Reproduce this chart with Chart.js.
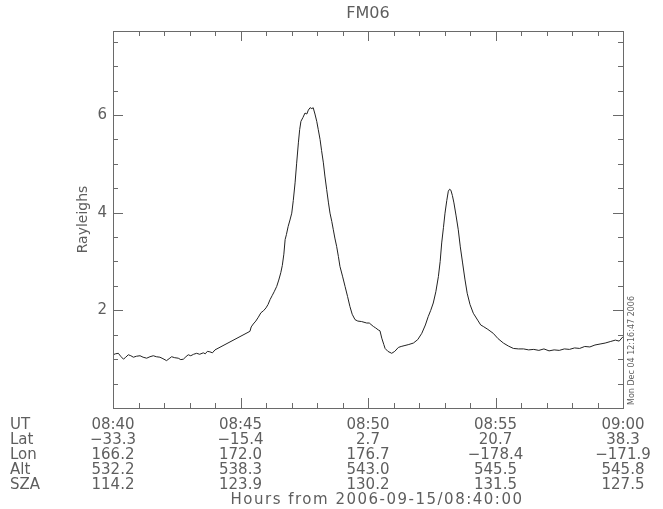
<!DOCTYPE html>
<html>
<head>
<meta charset="utf-8">
<script src="https://cdn.jsdelivr.net/npm/chart.js@4/dist/chart.umd.min.js"></script>
<style>
html,body{margin:0;padding:0;background:#fff;}
#c{display:block;}
</style>
</head>
<body>
<canvas id="c" width="663" height="509"></canvas>
<script>
// ---- data (minutes after 2006-09-15 08:40:00, Rayleighs) ----
const minutes = [
 0.00,0.10,0.21,0.30,0.41,0.50,0.60,0.70,0.80,0.92,1.06,1.18,1.32,1.45,1.58,1.70,1.84,1.96,2.10,2.20,
 2.30,2.42,2.56,2.66,2.76,2.86,2.95,3.05,3.16,3.28,3.40,3.54,3.62,3.70,3.80,3.90,4.00,5.37,5.42,5.50,
 5.60,5.70,5.80,5.90,6.00,6.08,6.16,6.24,6.32,6.42,6.50,6.58,6.64,6.70,6.75,6.80,6.87,6.94,7.01,7.07,
 7.14,7.20,7.27,7.32,7.37,7.45,7.53,7.60,7.66,7.73,7.80,7.85,7.92,7.99,8.05,8.12,8.18,8.25,8.31,8.38,
 8.45,8.51,8.58,8.64,8.70,8.77,8.84,8.90,9.00,9.10,9.20,9.29,9.38,9.49,9.60,9.75,9.95,10.05,10.21,10.30,
 10.40,10.47,10.54,10.62,10.67,10.78,10.93,11.05,11.19,11.30,11.45,11.60,11.78,11.95,12.11,12.25,12.36,12.46,12.56,12.66,
 12.76,12.83,12.89,12.96,13.02,13.09,13.15,13.20,13.25,13.31,13.37,13.45,13.54,13.62,13.71,13.80,13.89,14.00,14.13,14.30,
 14.42,14.52,14.70,14.91,15.10,15.31,15.50,15.70,15.90,16.10,16.30,16.50,16.70,16.90,17.10,17.30,17.50,17.70,17.90,18.10,
 18.30,18.50,18.70,18.90,19.10,19.30,19.50,19.70,19.85,20.00
];
const rayleighs = [
 1.09,1.11,1.12,1.06,1.00,1.04,1.09,1.07,1.04,1.06,1.07,1.04,1.02,1.05,1.07,1.05,1.04,1.01,0.97,1.01,
 1.05,1.03,1.02,0.99,1.00,1.05,1.09,1.07,1.10,1.12,1.10,1.13,1.11,1.16,1.15,1.13,1.19,1.57,1.66,1.72,
 1.78,1.86,1.95,1.99,2.05,2.12,2.22,2.30,2.38,2.49,2.62,2.77,2.92,3.15,3.45,3.55,3.72,3.85,3.99,4.25,
 4.61,5.00,5.43,5.70,5.87,5.95,6.04,6.02,6.10,6.15,6.13,6.15,6.02,5.87,5.70,5.50,5.27,5.02,4.75,4.47,
 4.20,3.99,3.82,3.65,3.48,3.31,3.10,2.90,2.70,2.49,2.28,2.08,1.92,1.81,1.78,1.77,1.74,1.74,1.67,1.64,
 1.60,1.58,1.43,1.30,1.22,1.16,1.12,1.16,1.24,1.26,1.28,1.30,1.33,1.40,1.53,1.70,1.87,2.00,2.15,2.38,
 2.69,3.00,3.38,3.70,3.99,4.25,4.44,4.48,4.46,4.35,4.20,3.95,3.65,3.30,2.97,2.64,2.35,2.12,1.94,1.80,
 1.70,1.67,1.61,1.53,1.42,1.33,1.27,1.22,1.21,1.21,1.19,1.20,1.18,1.21,1.17,1.19,1.18,1.21,1.20,1.23,
 1.22,1.26,1.25,1.29,1.31,1.33,1.36,1.39,1.37,1.46
];
// ---- bottom table ----
const rowNames  = ['UT','Lat','Lon','Alt','SZA'];
const tickMinutes = [0,5,10,15,20];
const utLabels  = ['08:40','08:45','08:50','08:55','09:00'];
const latValues = ['\u221233.3','\u221215.4','2.7','20.7','38.3'];
const lonValues = ['166.2','172.0','176.7','\u2212178.4','\u2212171.9'];
const altValues = ['532.2','538.3','543.0','545.5','545.8'];
const szaValues = ['114.2','123.9','130.2','131.5','127.5'];
const yTickLabels = [2,4,6];
const titleText = 'FM06';
const xTitle = 'Hours from 2006-09-15/08:40:00';
const yTitle = 'Rayleighs';
const stampText = 'Mon Dec 04 12:16:47 2006';

const FONT = "'DejaVu Sans', sans-serif";
const TXT = '#5e5e5e';
const AX = '#6a6a6a';
const ROW_LH = 15;

const points = minutes.map((m,i)=>({x:m,y:rayleighs[i]}));

const decorPlugin = {
  id:'decor',
  afterDraw(chart){
    const {ctx, chartArea:a, scales:{x,y}} = chart;
    ctx.save();
    ctx.strokeStyle = AX;
    ctx.lineWidth = 1;
    ctx.strokeRect(Math.round(a.left)+0.5, Math.round(a.top)+0.5, Math.round(a.right-a.left), Math.round(a.bottom-a.top));
    ctx.beginPath();
    for(let m=0;m<=20;m++){
      const px = Math.round(x.getPixelForValue(m))+0.5;
      const len = (m%5===0)?10:5;
      ctx.moveTo(px, a.bottom); ctx.lineTo(px, a.bottom-len);
      ctx.moveTo(px, a.top); ctx.lineTo(px, a.top+len);
    }
    for(let k=0;k<=15;k++){
      const v = k*0.5;
      const py = Math.round(y.getPixelForValue(v))+0.5;
      const len = (k%4===0)?10:5;
      ctx.moveTo(a.left, py); ctx.lineTo(a.left+len, py);
      ctx.moveTo(a.right, py); ctx.lineTo(a.right-len, py);
    }
    ctx.stroke();
    // title
    ctx.fillStyle = TXT;
    ctx.font = "16px " + FONT;
    ctx.textAlign = 'center';
    ctx.textBaseline = 'middle';
    ctx.fillText(titleText, (a.left+a.right)/2, 14);
    // row names
    ctx.font = "15px " + FONT;
    ctx.textAlign = 'left';
    const y0 = a.bottom + 9.5 + ROW_LH/2;
    rowNames.forEach((r,i)=>ctx.fillText(r, 10, y0 + i*ROW_LH));
    // x-axis title (wide spacing like the original vector font)
    ctx.textAlign = 'center';
    ctx.letterSpacing = '1.5px';
    ctx.fillText(xTitle, (a.left+a.right)/2 + 9, y0 + 5*ROW_LH);
    ctx.letterSpacing = '0px';
    // time stamp
    ctx.font = "8px " + FONT;
    ctx.translate(a.right+9, a.bottom-3);
    ctx.rotate(-Math.PI/2);
    ctx.textAlign = 'left';
    ctx.fillText(stampText, 0, 0);
    ctx.restore();
  }
};

new Chart(document.getElementById('c'), {
  type:'line',
  data:{datasets:[{
    data: points,
    borderColor:'#222',
    borderWidth:1,
    pointRadius:0,
    tension:0,
    fill:false
  }]},
  options:{
    responsive:false,
    animation:false,
    devicePixelRatio:1,
    layout:{padding:{top:31,right:40,left:0,bottom:0}},
    plugins:{legend:{display:false},tooltip:{enabled:false},title:{display:false}},
    scales:{
      x:{
        type:'linear', min:0, max:20,
        grid:{display:false, drawTicks:false}, border:{display:false},
        afterBuildTicks(s){ s.ticks = tickMinutes.map(v=>({value:v})); },
        afterFit(s){ s.height = 101; },
        ticks:{
          autoSkip:false, maxRotation:0, padding:9.5, color:TXT,
          font:{family:FONT, size:15, lineHeight:ROW_LH/15},
          callback(v){
            const i = tickMinutes.indexOf(v);
            if(i<0) return '';
            return [utLabels[i], latValues[i], lonValues[i], altValues[i], szaValues[i]];
          }
        },
        title:{display:false}
      },
      y:{
        type:'linear', min:0, max:7.72,
        grid:{display:false, drawTicks:false}, border:{display:false},
        afterBuildTicks(s){ s.ticks = yTickLabels.map(v=>({value:v})); },
        afterFit(s){ s.width = 113; },
        ticks:{padding:6, color:TXT, font:{family:FONT,size:15}},
        title:{display:true, text:yTitle, color:TXT, font:{family:FONT,size:14,lineHeight:1}, padding:{top:76,bottom:0}}
      }
    }
  },
  plugins:[decorPlugin]
});
</script>
</body>
</html>
